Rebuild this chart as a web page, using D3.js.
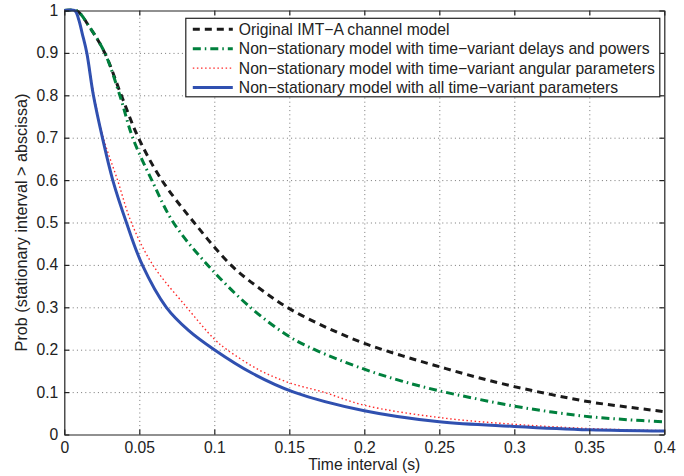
<!DOCTYPE html>
<html>
<head>
<meta charset="utf-8">
<script src="https://cdn.jsdelivr.net/npm/d3@7"></script>
<style>
body { margin: 0; background: #fff; }
svg text { font-family: Arial, "Liberation Sans", Helvetica, sans-serif; font-size: 15.7px; fill: #222; }
.axis path, .axis line { stroke: #222; stroke-width: 1.2; }
.grid line { stroke: #777; stroke-width: 1; stroke-dasharray: 1, 3.2; }
.grid path { display: none; }
</style>
</head>
<body>
<script>
// tick values / labels
var xTicks = [0, 0.05, 0.1, 0.15, 0.2, 0.25, 0.3, 0.35, 0.4];
var xTickLabels = ["0", "0.05", "0.1", "0.15", "0.2", "0.25", "0.3", "0.35", "0.4"];
var yTicks = [0, 0.1, 0.2, 0.3, 0.4, 0.5, 0.6, 0.7, 0.8, 0.9, 1];
var yTickLabels = ["0", "0.1", "0.2", "0.3", "0.4", "0.5", "0.6", "0.7", "0.8", "0.9", "1"];

var seriesNames = [
    "Original IMT\u2212A channel model",
    "Non\u2212stationary model with time\u2212variant delays and powers",
    "Non\u2212stationary model with time\u2212variant angular parameters",
    "Non\u2212stationary model with all time\u2212variant parameters"
];

// [time interval (s), probability]
var original = [[0, 1], [0.008, 1], [0.017, 0.96], [0.027, 0.9], [0.038, 0.8], [0.0494, 0.7], [0.065, 0.6],
    [0.0865, 0.5], [0.111, 0.4], [0.13, 0.345], [0.1495, 0.298], [0.175, 0.252], [0.2, 0.215], [0.225, 0.186],
    [0.25, 0.16], [0.275, 0.135], [0.3, 0.113], [0.325, 0.094], [0.35, 0.077], [0.375, 0.065], [0.4, 0.054]];
var delaysPowers = [[0, 1], [0.008, 1], [0.017, 0.96], [0.027, 0.9], [0.037, 0.8], [0.0456, 0.7], [0.0583, 0.6],
    [0.0727, 0.5], [0.0955, 0.4], [0.124, 0.3], [0.15, 0.231], [0.167, 0.2], [0.2, 0.154], [0.225, 0.126],
    [0.25, 0.103], [0.275, 0.084], [0.3, 0.067], [0.325, 0.053], [0.35, 0.042], [0.375, 0.035], [0.4, 0.03]];
var angular = [[0, 1], [0.007, 1], [0.0095, 0.98], [0.012, 0.945], [0.015, 0.9], [0.0198, 0.8], [0.026, 0.7],
    [0.0355, 0.6], [0.0447, 0.5], [0.059, 0.4], [0.0816, 0.3], [0.1, 0.225], [0.1085, 0.2], [0.13, 0.152],
    [0.15, 0.122], [0.1727, 0.1], [0.2, 0.069], [0.25, 0.04], [0.3, 0.024], [0.35, 0.014], [0.4, 0.009]];
var allParams = [[0, 1], [0.007, 1], [0.0095, 0.98], [0.012, 0.945], [0.015, 0.9], [0.0194, 0.8], [0.0254, 0.7],
    [0.0323, 0.6], [0.0414, 0.5], [0.052, 0.4], [0.068, 0.3], [0.083, 0.245], [0.1, 0.2], [0.125, 0.145],
    [0.153, 0.1], [0.2, 0.056], [0.25, 0.03], [0.3, 0.019], [0.35, 0.011], [0.4, 0.008]];

var margin = { top: 10.5, right: 20, bottom: 41.5, left: 64.3 };
var width = 600;
var height = 424;

var svg = d3.select("body")
    .append("svg")
    .attr("width", 684)
    .attr("height", 476)
    .append("g")
    .attr("transform", "translate(" + margin.left + "," + margin.top + ")");

var xscale = d3.scaleLinear().domain([0, 0.4]).range([0, width]);
var yscale = d3.scaleLinear().domain([0, 1]).range([height, 0]);

// grid
svg.append("g")
    .attr("class", "grid")
    .attr("transform", "translate(0," + height + ")")
    .call(d3.axisBottom(xscale).tickValues(xTicks.slice(1, -1)).tickSize(-height).tickFormat(""));
svg.append("g")
    .attr("class", "grid")
    .call(d3.axisLeft(yscale).tickValues(yTicks.slice(1, -1)).tickSize(-width).tickFormat(""));

// curves
svg.append("clipPath").attr("id", "clip")
    .append("rect").attr("width", width).attr("height", height + 2).attr("y", -2);

var line = d3.line()
    .x(function (d) { return xscale(d[0]); })
    .y(function (d) { return yscale(d[1]); })
    .curve(d3.curveCatmullRom.alpha(0.5));

var styles = [
    { data: original, color: "#1a1a1a", w: 3, dash: "7,5" },
    { data: delaysPowers, color: "#00803d", w: 3, dash: "8,4,1.5,4" },
    { data: angular, color: "#ff2a2a", w: 1.4, dash: "1.5,2.6" },
    { data: allParams, color: "#3050b0", w: 3, dash: null }
];

var curves = svg.append("g").attr("clip-path", "url(#clip)");
styles.forEach(function (s) {
    curves.append("path")
        .datum(s.data)
        .attr("d", line)
        .attr("fill", "none")
        .attr("stroke", s.color)
        .attr("stroke-width", s.w)
        .attr("stroke-dasharray", s.dash);
});

// axes (box with inward ticks)
svg.append("g")
    .attr("class", "axis")
    .attr("transform", "translate(0," + height + ")")
    .call(d3.axisBottom(xscale).tickValues(xTicks).tickSizeInner(-5).tickSizeOuter(0).tickPadding(7)
        .tickFormat(function (d, i) { return xTickLabels[i]; }));
svg.append("g")
    .attr("class", "axis")
    .call(d3.axisLeft(yscale).tickValues(yTicks).tickSizeInner(-5).tickSizeOuter(0).tickPadding(6)
        .tickFormat(function (d, i) { return yTickLabels[i]; }));
svg.append("g")
    .attr("class", "axis")
    .call(d3.axisTop(xscale).tickValues(xTicks).tickSizeInner(-5).tickSizeOuter(0).tickFormat(""));
svg.append("g")
    .attr("class", "axis")
    .attr("transform", "translate(" + width + ",0)")
    .call(d3.axisRight(yscale).tickValues(yTicks).tickSizeInner(-5).tickSizeOuter(0).tickFormat(""));
svg.selectAll(".axis").attr("font-family", null).attr("font-size", null);

// axis labels
svg.append("text")
    .attr("x", width / 2)
    .attr("y", height + 35)
    .attr("text-anchor", "middle")
    .text("Time interval (s)");
svg.append("text")
    .attr("transform", "translate(-37," + (height / 2) + ") rotate(-90)")
    .attr("text-anchor", "middle")
    .style("font-size", "16.2px")
    .text("Prob (stationary interval > abscissa)");

// legend
var legend = svg.append("g").attr("transform", "translate(121.5,7.8)");
legend.append("rect")
    .attr("width", 474)
    .attr("height", 78.5)
    .attr("fill", "#fff")
    .attr("stroke", "#222")
    .attr("stroke-width", 1.2);

var item = legend.selectAll(".legend")
    .data(styles)
    .enter().append("g")
    .attr("class", "legend")
    .attr("transform", function (d, i) { return "translate(0," + (11 + i * 19.4) + ")"; });
item.append("line")
    .attr("x1", 7).attr("x2", 47)
    .attr("stroke", function (d) { return d.color; })
    .attr("stroke-width", function (d) { return d.w; })
    .attr("stroke-dasharray", function (d) { return d.dash; });
item.append("text")
    .attr("x", 53)
    .attr("dy", "0.35em")
    .text(function (d, i) { return seriesNames[i]; });
</script>
</body>
</html>
